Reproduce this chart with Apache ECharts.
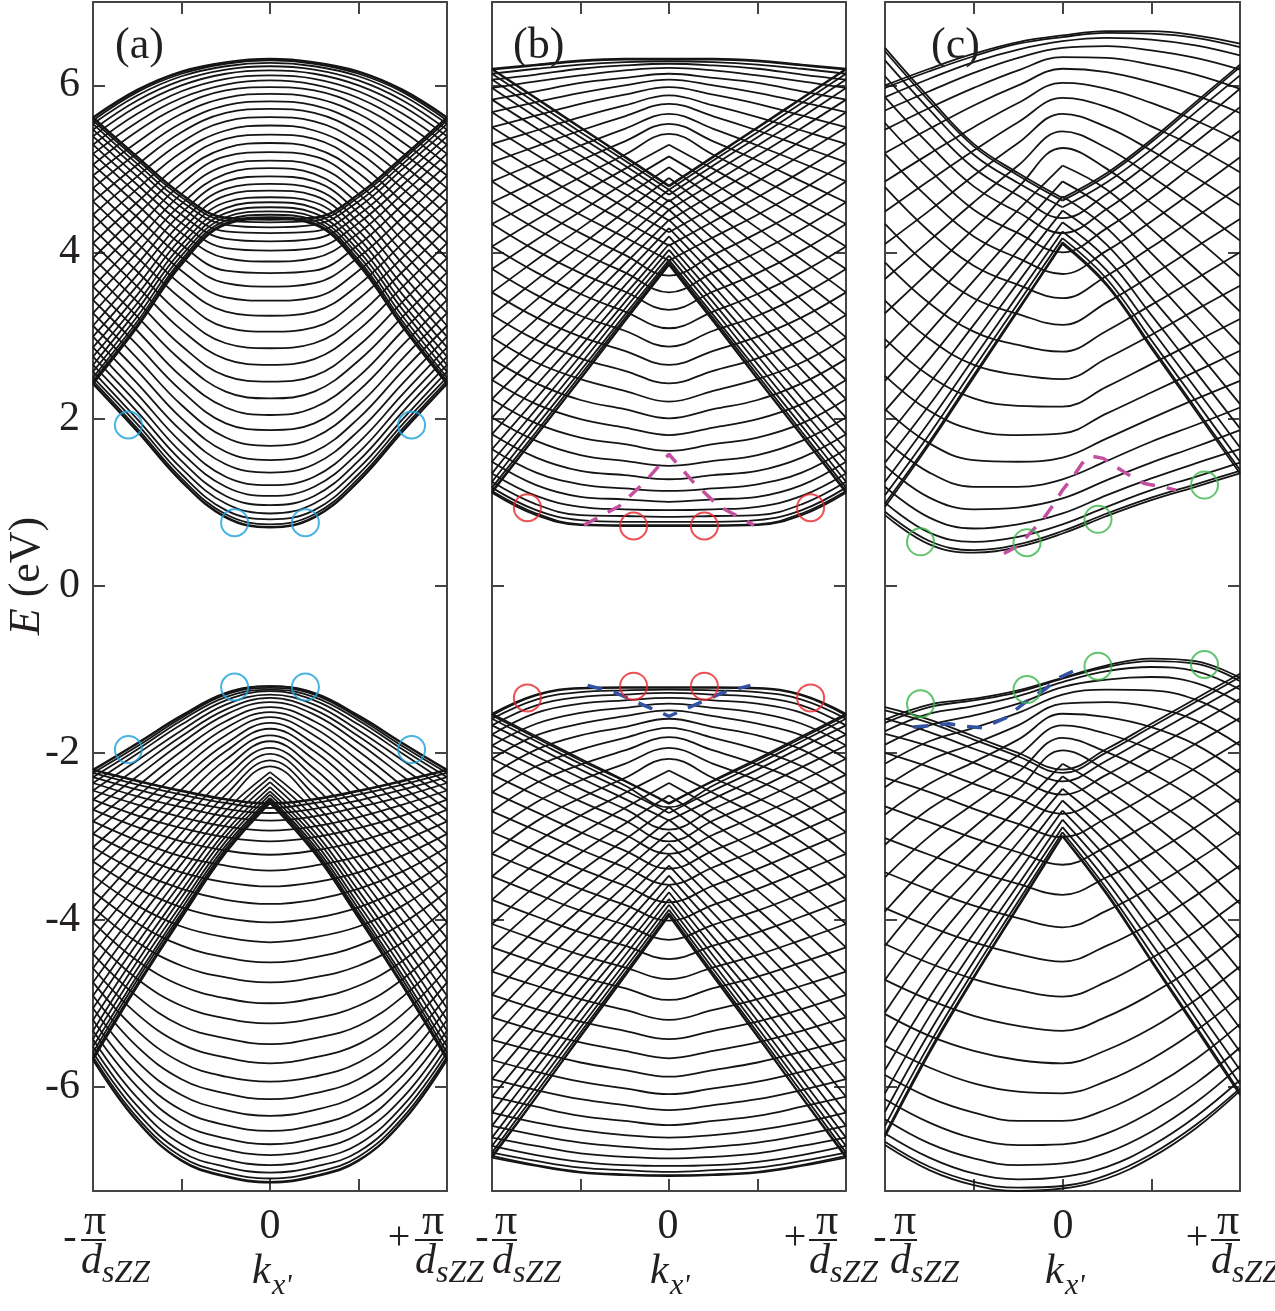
<!DOCTYPE html>
<html>
<head>
<meta charset="utf-8">
<script src="https://cdn.jsdelivr.net/npm/echarts@6.0.0/dist/echarts.min.js"></script>
<style>
  html, body { margin: 0; padding: 0; background: #fff; }
  #chart { width: 1275px; height: 1311px; }
</style>
</head>
<body>
<div id="chart"></div>
<script>
// k in units of pi/d_sZZ, energies in eV.
// Panels (a) and (b) are mirror symmetric: only k >= 0 columns are stored.
const kHalf = [0, 0.25, 0.5, 0.75, 1];
// Panel (c) is not symmetric: columns over the whole zone.
const kFull = [-1, -0.75, -0.5, -0.25, 0, 0.25, 0.5, 0.75, 1];

// ---- panel (a) ----
// conduction, lower branch (U shaped), columns k = 0, .25, .5, .75
const aCondLow = [
  [0.70,0.71,0.74,0.80,0.87,0.97,1.08,1.21,1.36,1.51,1.68,1.87,2.05,2.25,2.45,2.65,2.85,3.05,3.24,3.42,3.59,3.75,3.89,4.02,4.13,4.23,4.30,4.36,4.39,4.40],
  [0.82,0.83,0.86,0.91,0.99,1.08,1.19,1.31,1.46,1.61,1.78,1.95,2.14,2.33,2.52,2.72,2.91,3.10,3.29,3.46,3.63,3.78,3.93,4.05,4.16,4.25,4.33,4.38,4.41,4.42],
  [1.25,1.26,1.29,1.34,1.41,1.50,1.60,1.72,1.86,2.01,2.17,2.34,2.51,2.70,2.88,3.07,3.25,3.44,3.61,3.78,3.94,4.09,4.23,4.35,4.45,4.54,4.61,4.66,4.69,4.70],
  [1.85,1.86,1.89,1.94,2.00,2.09,2.19,2.30,2.43,2.58,2.73,2.89,3.06,3.23,3.41,3.59,3.77,3.94,4.11,4.27,4.42,4.57,4.70,4.81,4.91,5.00,5.06,5.11,5.14,5.15]
];
// conduction at the zone edge k = 1
const aCondEdge = [2.42,2.43,2.46,2.50,2.57,2.65,2.75,2.86,2.99,3.12,3.27,3.43,3.59,3.76,3.93,4.11,4.28,4.45,4.61,4.77,4.92,5.05,5.18,5.29,5.39,5.47,5.54,5.58,5.61,5.62];
// conduction, upper branch (cap shaped), columns k = 0, .25, .5, .75
const aCondUp = [
  [4.40,4.41,4.42,4.45,4.49,4.54,4.60,4.66,4.74,4.82,4.91,5.01,5.10,5.20,5.31,5.41,5.52,5.62,5.72,5.81,5.90,5.98,6.06,6.12,6.18,6.23,6.27,6.30,6.31,6.32],
  [4.33,4.34,4.35,4.38,4.42,4.47,4.53,4.60,4.68,4.76,4.85,4.94,5.04,5.15,5.25,5.36,5.46,5.57,5.67,5.76,5.85,5.94,6.01,6.08,6.14,6.19,6.23,6.26,6.27,6.28],
  [3.85,3.86,3.88,3.91,3.96,4.02,4.09,4.17,4.26,4.36,4.47,4.58,4.70,4.82,4.95,5.07,5.20,5.32,5.44,5.55,5.66,5.76,5.85,5.93,6.00,6.06,6.11,6.14,6.16,6.17],
  [3.10,3.11,3.13,3.17,3.23,3.31,3.39,3.49,3.60,3.73,3.86,4.00,4.14,4.29,4.45,4.60,4.76,4.91,5.05,5.19,5.32,5.45,5.56,5.66,5.75,5.82,5.88,5.92,5.94,5.95]
];
// valence, upper branch (cap shaped)
const aValUp = [
  [-1.20,-1.20,-1.22,-1.24,-1.26,-1.30,-1.34,-1.39,-1.45,-1.51,-1.57,-1.64,-1.71,-1.79,-1.86,-1.94,-2.01,-2.09,-2.16,-2.23,-2.29,-2.35,-2.41,-2.46,-2.50,-2.54,-2.56,-2.58,-2.59,-2.60],
  [-1.28,-1.29,-1.30,-1.33,-1.37,-1.42,-1.48,-1.54,-1.62,-1.70,-1.79,-1.89,-1.98,-2.08,-2.19,-2.29,-2.40,-2.50,-2.60,-2.69,-2.78,-2.86,-2.94,-3.00,-3.06,-3.11,-3.15,-3.18,-3.19,-3.20],
  [-1.55,-1.56,-1.58,-1.61,-1.66,-1.73,-1.80,-1.88,-1.98,-2.09,-2.20,-2.32,-2.44,-2.57,-2.70,-2.83,-2.96,-3.09,-3.22,-3.33,-3.45,-3.55,-3.65,-3.73,-3.81,-3.87,-3.92,-3.95,-3.97,-3.98],
  [-1.88,-1.89,-1.92,-1.96,-2.01,-2.09,-2.18,-2.28,-2.40,-2.52,-2.66,-2.80,-2.95,-3.10,-3.26,-3.42,-3.58,-3.73,-3.88,-4.02,-4.16,-4.28,-4.40,-4.50,-4.59,-4.67,-4.72,-4.77,-4.79,-4.80]
];
const aValEdge = [-2.20,-2.21,-2.24,-2.29,-2.36,-2.45,-2.56,-2.68,-2.82,-2.97,-3.13,-3.30,-3.47,-3.66,-3.85,-4.03,-4.22,-4.41,-4.58,-4.75,-4.91,-5.06,-5.20,-5.33,-5.43,-5.52,-5.59,-5.64,-5.67,-5.68];
// valence, lower branch (U shaped)
const aValLow = [
  [-2.60,-2.61,-2.66,-2.72,-2.81,-2.93,-3.06,-3.22,-3.41,-3.60,-3.81,-4.03,-4.27,-4.51,-4.75,-5.00,-5.24,-5.49,-5.72,-5.94,-6.15,-6.35,-6.53,-6.69,-6.82,-6.94,-7.03,-7.10,-7.14,-7.15],
  [-2.55,-2.56,-2.60,-2.67,-2.76,-2.88,-3.01,-3.17,-3.35,-3.55,-3.76,-3.98,-4.21,-4.45,-4.69,-4.94,-5.18,-5.42,-5.65,-5.88,-6.08,-6.28,-6.46,-6.62,-6.75,-6.87,-6.96,-7.03,-7.07,-7.08],
  [-2.45,-2.46,-2.50,-2.57,-2.65,-2.77,-2.90,-3.06,-3.24,-3.43,-3.63,-3.85,-4.08,-4.31,-4.55,-4.79,-5.03,-5.27,-5.49,-5.71,-5.91,-6.10,-6.28,-6.44,-6.57,-6.69,-6.78,-6.84,-6.88,-6.89],
  [-2.33,-2.34,-2.38,-2.44,-2.52,-2.62,-2.75,-2.89,-3.05,-3.23,-3.42,-3.62,-3.83,-4.04,-4.27,-4.49,-4.71,-4.92,-5.13,-5.33,-5.52,-5.70,-5.86,-6.00,-6.13,-6.23,-6.31,-6.37,-6.41,-6.42]
];

// ---- panel (b) ----
const bCondLow = [
  [0.72,0.73,0.77,0.83,0.91,1.01,1.14,1.28,1.44,1.62,1.81,2.01,2.21,2.43,2.65,2.87,3.09,3.31,3.52,3.72,3.90,4.08,4.24,4.38,4.51,4.61,4.69,4.75,4.79,4.80],
  [0.72,0.73,0.77,0.84,0.92,1.04,1.17,1.33,1.50,1.70,1.90,2.12,2.34,2.58,2.82,3.06,3.29,3.53,3.76,3.97,4.18,4.37,4.54,4.70,4.83,4.95,5.04,5.10,5.14,5.15],
  [0.73,0.74,0.79,0.85,0.95,1.07,1.22,1.38,1.57,1.78,2.00,2.23,2.48,2.73,2.99,3.24,3.50,3.75,4.00,4.23,4.45,4.66,4.85,5.01,5.16,5.28,5.38,5.44,5.49,5.50],
  [0.85,0.87,0.91,0.98,1.08,1.21,1.36,1.54,1.74,1.95,2.18,2.43,2.68,2.95,3.22,3.49,3.76,4.02,4.28,4.52,4.75,4.97,5.17,5.34,5.49,5.62,5.72,5.79,5.84,5.85]
];
const bCondEdge = [1.12,1.14,1.18,1.25,1.35,1.49,1.64,1.82,2.02,2.24,2.47,2.72,2.98,3.25,3.52,3.80,4.07,4.34,4.60,4.85,5.08,5.30,5.50,5.68,5.83,5.97,6.07,6.14,6.19,6.20];
const bCondUp = [
  [3.85,3.86,3.88,3.91,3.96,4.03,4.10,4.19,4.29,4.39,4.51,4.63,4.75,4.89,5.02,5.15,5.29,5.42,5.54,5.66,5.78,5.88,5.98,6.07,6.14,6.21,6.26,6.29,6.31,6.32],
  [3.17,3.18,3.21,3.25,3.32,3.40,3.49,3.60,3.73,3.86,4.01,4.16,4.32,4.49,4.66,4.83,5.00,5.17,5.33,5.48,5.63,5.76,5.89,6.00,6.09,6.18,6.24,6.28,6.31,6.32],
  [2.48,2.49,2.53,2.58,2.66,2.76,2.87,3.00,3.16,3.32,3.50,3.68,3.88,4.08,4.29,4.49,4.70,4.90,5.10,5.28,5.46,5.62,5.78,5.91,6.03,6.12,6.20,6.25,6.29,6.30],
  [1.80,1.81,1.85,1.92,2.01,2.12,2.25,2.41,2.59,2.78,2.98,3.20,3.43,3.67,3.91,4.15,4.39,4.62,4.85,5.07,5.27,5.46,5.64,5.80,5.93,6.05,6.13,6.20,6.24,6.25]
];
const bValUp = [
  [-1.21,-1.22,-1.24,-1.28,-1.34,-1.41,-1.49,-1.59,-1.70,-1.81,-1.94,-2.07,-2.21,-2.36,-2.51,-2.65,-2.80,-2.95,-3.09,-3.22,-3.35,-3.47,-3.58,-3.67,-3.75,-3.82,-3.88,-3.92,-3.94,-3.95],
  [-1.21,-1.22,-1.25,-1.30,-1.37,-1.46,-1.56,-1.69,-1.82,-1.97,-2.13,-2.30,-2.48,-2.66,-2.85,-3.04,-3.23,-3.41,-3.59,-3.76,-3.92,-4.07,-4.21,-4.33,-4.43,-4.52,-4.59,-4.64,-4.67,-4.68],
  [-1.22,-1.23,-1.27,-1.33,-1.41,-1.52,-1.65,-1.79,-1.96,-2.14,-2.33,-2.54,-2.75,-2.97,-3.20,-3.42,-3.65,-3.87,-4.08,-4.29,-4.48,-4.66,-4.83,-4.97,-5.10,-5.21,-5.29,-5.35,-5.39,-5.40],
  [-1.30,-1.31,-1.36,-1.43,-1.52,-1.65,-1.79,-1.96,-2.16,-2.36,-2.59,-2.82,-3.07,-3.32,-3.59,-3.85,-4.11,-4.36,-4.61,-4.85,-5.07,-5.28,-5.47,-5.64,-5.78,-5.91,-6.00,-6.07,-6.12,-6.13]
];
const bValEdge = [-1.53,-1.55,-1.59,-1.67,-1.78,-1.91,-2.07,-2.26,-2.47,-2.70,-2.95,-3.21,-3.48,-3.76,-4.05,-4.33,-4.62,-4.90,-5.17,-5.44,-5.68,-5.91,-6.12,-6.31,-6.47,-6.61,-6.71,-6.79,-6.83,-6.85];
const bValLow = [
  [-2.60,-2.61,-2.65,-2.72,-2.81,-2.92,-3.06,-3.21,-3.39,-3.58,-3.79,-4.01,-4.24,-4.47,-4.71,-4.96,-5.20,-5.43,-5.66,-5.88,-6.09,-6.28,-6.46,-6.61,-6.75,-6.86,-6.95,-7.02,-7.06,-7.07],
  [-2.33,-2.34,-2.39,-2.45,-2.55,-2.67,-2.81,-2.98,-3.17,-3.37,-3.59,-3.82,-4.06,-4.31,-4.57,-4.82,-5.08,-5.33,-5.57,-5.80,-6.02,-6.22,-6.41,-6.58,-6.72,-6.84,-6.94,-7.00,-7.05,-7.06],
  [-2.07,-2.09,-2.13,-2.20,-2.30,-2.43,-2.58,-2.75,-2.95,-3.16,-3.39,-3.63,-3.89,-4.15,-4.42,-4.68,-4.95,-5.22,-5.47,-5.71,-5.94,-6.15,-6.35,-6.52,-6.67,-6.80,-6.90,-6.97,-7.02,-7.03],
  [-1.80,-1.82,-1.86,-1.93,-2.04,-2.17,-2.33,-2.51,-2.71,-2.93,-3.17,-3.42,-3.69,-3.96,-4.24,-4.51,-4.79,-5.07,-5.33,-5.58,-5.82,-6.04,-6.24,-6.43,-6.58,-6.71,-6.82,-6.89,-6.94,-6.95]
];

// ---- panel (c), columns at kFull ----
const cCondLow = [
  [0.85,0.89,1.00,1.19,1.44,1.75,2.12,2.52,2.96,3.42,3.88,4.34,4.78,5.18,5.55,5.86,6.11,6.30,6.41,6.45],
  [0.50,0.54,0.64,0.82,1.06,1.36,1.71,2.10,2.52,2.96,3.39,3.83,4.25,4.64,4.99,5.29,5.53,5.71,5.81,5.85],
  [0.40,0.43,0.53,0.69,0.92,1.19,1.51,1.87,2.25,2.65,3.05,3.45,3.84,4.19,4.51,4.79,5.01,5.17,5.27,5.30],
  [0.47,0.50,0.59,0.74,0.94,1.19,1.49,1.81,2.16,2.53,2.89,3.26,3.61,3.93,4.23,4.48,4.68,4.83,4.92,4.95],
  [0.63,0.66,0.74,0.87,1.05,1.28,1.54,1.83,2.15,2.48,2.81,3.13,3.45,3.74,4.00,4.23,4.41,4.54,4.62,4.65],
  [0.84,0.87,0.95,1.09,1.27,1.50,1.77,2.07,2.39,2.73,3.06,3.40,3.72,4.02,4.29,4.52,4.70,4.84,4.92,4.95],
  [1.03,1.06,1.15,1.29,1.48,1.73,2.01,2.32,2.66,3.01,3.37,3.72,4.06,4.37,4.65,4.90,5.09,5.23,5.32,5.35],
  [1.19,1.22,1.31,1.47,1.67,1.93,2.24,2.57,2.93,3.31,3.68,4.06,4.42,4.75,5.06,5.32,5.52,5.68,5.77,5.80],
  [1.35,1.38,1.48,1.64,1.87,2.14,2.46,2.82,3.20,3.60,4.00,4.40,4.79,5.14,5.46,5.74,5.96,6.12,6.22,6.25]
];
const cCondUp = [
  [0.95,0.99,1.09,1.25,1.48,1.76,2.10,2.46,2.85,3.27,3.68,4.10,4.49,4.85,5.19,5.47,5.70,5.86,5.97,6.00],
  [1.70,1.73,1.82,1.97,2.17,2.43,2.72,3.05,3.40,3.77,4.14,4.50,4.86,5.18,5.48,5.73,5.93,6.08,6.17,6.20],
  [2.50,2.53,2.61,2.73,2.91,3.13,3.38,3.66,3.96,4.28,4.60,4.92,5.22,5.50,5.76,5.97,6.15,6.28,6.35,6.38],
  [3.30,3.32,3.39,3.49,3.64,3.82,4.03,4.26,4.51,4.78,5.04,5.31,5.56,5.79,6.00,6.18,6.33,6.43,6.50,6.52],
  [4.10,4.12,4.17,4.25,4.36,4.50,4.67,4.85,5.04,5.25,5.45,5.66,5.85,6.03,6.20,6.34,6.45,6.53,6.58,6.60],
  [3.60,3.62,3.68,3.78,3.92,4.09,4.29,4.51,4.75,5.00,5.25,5.50,5.74,5.96,6.16,6.33,6.47,6.57,6.63,6.65],
  [2.85,2.88,2.95,3.08,3.25,3.46,3.71,3.99,4.28,4.59,4.91,5.22,5.51,5.79,6.04,6.25,6.42,6.55,6.62,6.65],
  [2.10,2.13,2.22,2.37,2.57,2.83,3.12,3.45,3.80,4.17,4.54,4.90,5.26,5.58,5.88,6.13,6.33,6.48,6.57,6.60],
  [1.35,1.39,1.49,1.66,1.89,2.18,2.52,2.89,3.29,3.71,4.14,4.56,4.96,5.33,5.67,5.96,6.19,6.36,6.46,6.50]
];
const cValUp = [
  [-1.60,-1.64,-1.74,-1.90,-2.13,-2.41,-2.74,-3.10,-3.49,-3.90,-4.31,-4.72,-5.11,-5.47,-5.80,-6.08,-6.30,-6.47,-6.57,-6.60],
  [-1.42,-1.45,-1.53,-1.67,-1.86,-2.09,-2.37,-2.67,-3.00,-3.34,-3.68,-4.02,-4.35,-4.65,-4.93,-5.16,-5.35,-5.49,-5.57,-5.60],
  [-1.35,-1.37,-1.44,-1.55,-1.70,-1.89,-2.11,-2.35,-2.61,-2.89,-3.16,-3.44,-3.70,-3.94,-4.16,-4.35,-4.50,-4.61,-4.68,-4.70],
  [-1.25,-1.27,-1.32,-1.41,-1.52,-1.67,-1.84,-2.03,-2.23,-2.44,-2.66,-2.87,-3.07,-3.26,-3.43,-3.58,-3.69,-3.78,-3.83,-3.85],
  [-1.10,-1.11,-1.15,-1.21,-1.30,-1.41,-1.53,-1.67,-1.82,-1.97,-2.13,-2.28,-2.43,-2.57,-2.69,-2.80,-2.89,-2.95,-2.99,-3.00],
  [-0.95,-0.97,-1.02,-1.12,-1.24,-1.39,-1.57,-1.77,-1.99,-2.21,-2.44,-2.66,-2.88,-3.08,-3.26,-3.41,-3.54,-3.63,-3.68,-3.70],
  [-0.87,-0.90,-0.97,-1.09,-1.25,-1.45,-1.69,-1.96,-2.24,-2.54,-2.83,-3.13,-3.42,-3.68,-3.92,-4.12,-4.28,-4.40,-4.48,-4.50],
  [-0.90,-0.93,-1.02,-1.16,-1.36,-1.61,-1.90,-2.22,-2.56,-2.92,-3.28,-3.64,-3.98,-4.30,-4.59,-4.84,-5.04,-5.18,-5.27,-5.30],
  [-1.10,-1.14,-1.24,-1.40,-1.63,-1.91,-2.24,-2.60,-2.99,-3.40,-3.81,-4.22,-4.61,-4.97,-5.30,-5.58,-5.80,-5.97,-6.07,-6.10]
];
const cValLow = [
  [-1.45,-1.49,-1.59,-1.77,-2.00,-2.30,-2.64,-3.02,-3.43,-3.86,-4.29,-4.72,-5.13,-5.51,-5.86,-6.15,-6.39,-6.56,-6.66,-6.70],
  [-1.60,-1.64,-1.75,-1.92,-2.17,-2.47,-2.83,-3.22,-3.64,-4.08,-4.52,-4.96,-5.39,-5.77,-6.13,-6.43,-6.68,-6.85,-6.96,-7.00],
  [-1.80,-1.84,-1.95,-2.12,-2.37,-2.67,-3.02,-3.41,-3.83,-4.27,-4.71,-5.15,-5.57,-5.96,-6.31,-6.62,-6.86,-7.04,-7.14,-7.18],
  [-2.00,-2.04,-2.14,-2.32,-2.55,-2.85,-3.19,-3.57,-3.98,-4.41,-4.84,-5.27,-5.68,-6.06,-6.41,-6.70,-6.94,-7.11,-7.21,-7.25],
  [-2.20,-2.24,-2.34,-2.50,-2.73,-3.01,-3.34,-3.70,-4.09,-4.50,-4.92,-5.33,-5.72,-6.08,-6.41,-6.69,-6.92,-7.08,-7.19,-7.22],
  [-1.95,-1.99,-2.09,-2.26,-2.49,-2.78,-3.12,-3.49,-3.89,-4.31,-4.74,-5.16,-5.56,-5.93,-6.27,-6.56,-6.79,-6.96,-7.06,-7.10],
  [-1.65,-1.69,-1.79,-1.96,-2.20,-2.49,-2.83,-3.21,-3.61,-4.04,-4.46,-4.89,-5.30,-5.67,-6.01,-6.30,-6.54,-6.71,-6.81,-6.85],
  [-1.35,-1.39,-1.49,-1.66,-1.89,-2.18,-2.52,-2.89,-3.29,-3.71,-4.14,-4.56,-4.96,-5.33,-5.67,-5.96,-6.19,-6.36,-6.46,-6.50],
  [-1.05,-1.09,-1.19,-1.35,-1.58,-1.86,-2.19,-2.55,-2.94,-3.35,-3.76,-4.17,-4.56,-4.92,-5.25,-5.53,-5.75,-5.92,-6.02,-6.05]
];

// ---- markers ----
const aCircles = [[-0.80,1.93],[-0.20,0.76],[0.20,0.76],[0.80,1.93],[-0.20,-1.21],[0.20,-1.21],[-0.80,-1.96],[0.80,-1.96]];
const bCircles = [[-0.80,0.94],[-0.20,0.72],[0.20,0.72],[0.80,0.94],[-0.80,-1.34],[-0.20,-1.20],[0.20,-1.20],[0.80,-1.34]];
const cCircles = [[-0.80,0.53],[-0.20,0.52],[0.20,0.80],[0.80,1.21],[-0.80,-1.41],[-0.20,-1.24],[0.20,-0.96],[0.80,-0.94]];
const bPinkPath = [[-0.48,0.73],[-0.28,0.96],[-0.14,1.24],[0,1.58],[0.14,1.24],[0.28,0.96],[0.48,0.73]];
const bBluePath = [[-0.46,-1.19],[-0.30,-1.28],[-0.15,-1.42],[0,-1.56],[0.15,-1.42],[0.30,-1.28],[0.46,-1.19]];
const cPinkPath = [[-0.33,0.39],[-0.25,0.48],[-0.18,0.64],[-0.11,0.80],[-0.05,0.98],[0.0,1.15],[0.06,1.31],[0.11,1.47],[0.16,1.56],[0.23,1.53],[0.30,1.43],[0.39,1.31],[0.46,1.23],[0.56,1.19],[0.64,1.15]];
const cBluePath = [[-0.84,-1.69],[-0.73,-1.67],[-0.64,-1.65],[-0.55,-1.68],[-0.45,-1.70],[-0.32,-1.58],[-0.25,-1.46],[-0.17,-1.33],[-0.10,-1.24],[-0.02,-1.10],[0.06,-1.02]];

const yTicks = [-6, -4, -2, 0, 2, 4, 6];
const xTicks = [-0.5, 0, 0.5];

const serif = '"Liberation Serif", "Times New Roman", serif';
const ink = '#231f20';
const frame = '#444';
const panels = [
  { left: 93, width: 354 },
  { left: 492, width: 354 },
  { left: 885, width: 355 }
];
const TOP = 2, HEIGHT = 1189;

const chart = echarts.init(document.getElementById('chart'), null, { renderer: 'canvas' });

const grids = [], xAxes = [], yAxes = [];
panels.forEach(function (p, i) {
  grids.push({ left: p.left, top: TOP, width: p.width, height: HEIGHT, containLabel: false });
  ['bottom', 'top'].forEach(function (pos) {
    xAxes.push({
      type: 'value', gridIndex: i, min: -1, max: 1, position: pos,
      axisLine: { show: true, onZero: false, lineStyle: { color: frame, width: 2 } },
      axisTick: { show: true, inside: true, length: 12, customValues: xTicks, lineStyle: { color: frame, width: 2 } },
      axisLabel: { show: false }, splitLine: { show: false }
    });
  });
  ['left', 'right'].forEach(function (pos) {
    const withLabels = (i === 0 && pos === 'left');
    yAxes.push({
      type: 'value', gridIndex: i, min: -7.25, max: 7, position: pos,
      axisLine: { show: true, onZero: false, lineStyle: { color: frame, width: 2 } },
      axisTick: { show: true, inside: true, length: 12, customValues: yTicks, lineStyle: { color: frame, width: 2 } },
      axisLabel: {
        show: withLabels, customValues: yTicks, margin: 13,
        fontFamily: serif, fontSize: 42, color: ink
      },
      splitLine: { show: false }
    });
  });
});

function bandLine(pts, gi) {
  return {
    type: 'line', xAxisIndex: gi * 2, yAxisIndex: gi * 2, data: pts,
    smooth: 0.4, symbol: 'none', silent: true, animation: false, z: 2,
    lineStyle: { color: '#151515', width: 1.8 }
  };
}
// a band with a pointed extremum at k = 0 is drawn as two halves so the tip stays sharp
function addBand(out, pts, gi, sharp) {
  const c = pts.findIndex(function (p) { return p[0] === 0; });
  const v = pts[c][1], l = pts[c - 1][1], r = pts[c + 1][1];
  if ((v - l) * (v - r) > 0 && Math.abs(v - l) > sharp && Math.abs(v - r) > sharp) {
    out.push(bandLine(pts.slice(0, c + 1), gi));
    out.push(bandLine(pts.slice(c), gi));
  } else {
    out.push(bandLine(pts, gi));
  }
}
// symmetric family: columns at kHalf, mirrored to negative k
function symFamily(cols, gi, sharp) {
  const out = [];
  for (let b = 0; b < cols[0].length; b++) {
    const pts = [];
    for (let j = cols.length - 1; j > 0; j--) pts.push([-kHalf[j], cols[j][b]]);
    for (let j = 0; j < cols.length; j++) pts.push([kHalf[j], cols[j][b]]);
    addBand(out, pts, gi, sharp);
  }
  return out;
}
// family sampled over the full zone
function fullFamily(cols, gi, sharp) {
  const out = [];
  for (let b = 0; b < cols[0].length; b++) {
    addBand(out, kFull.map(function (k, j) { return [k, cols[j][b]]; }), gi, sharp);
  }
  return out;
}

let series = [];
series = series.concat(symFamily(aCondLow.concat([aCondEdge]), 0, 0.45));
series = series.concat(symFamily(aCondUp.concat([aCondEdge]), 0, 0.45));
series = series.concat(symFamily(aValUp.concat([aValEdge]), 0, 0.45));
series = series.concat(symFamily(aValLow.concat([aValEdge]), 0, 0.45));
series = series.concat(symFamily(bCondLow.concat([bCondEdge]), 1, 0.26));
series = series.concat(symFamily(bCondUp.concat([bCondEdge]), 1, 0.26));
series = series.concat(symFamily(bValUp.concat([bValEdge]), 1, 0.26));
series = series.concat(symFamily(bValLow.concat([bValEdge]), 1, 0.26));
series = series.concat(fullFamily(cCondLow, 2, 0.28));
series = series.concat(fullFamily(cCondUp, 2, 0.28));
series = series.concat(fullFamily(cValUp, 2, 0.28));
series = series.concat(fullFamily(cValLow, 2, 0.28));

function circles(data, gi, color) {
  return {
    type: 'scatter', xAxisIndex: gi * 2, yAxisIndex: gi * 2, data: data,
    symbol: 'circle', symbolSize: 27, silent: true, animation: false, z: 6,
    itemStyle: { color: 'rgba(0,0,0,0)', borderColor: color, borderWidth: 2 }
  };
}
function dashed(data, gi, color) {
  return {
    type: 'line', xAxisIndex: gi * 2, yAxisIndex: gi * 2, data: data,
    symbol: 'none', silent: true, animation: false, z: 5,
    lineStyle: { color: color, width: 3.5, type: [15, 12] }
  };
}
series.push(circles(aCircles, 0, '#1ca0dc'));
series.push(circles(bCircles, 1, '#e8262b'));
series.push(circles(cCircles, 2, '#3cb54a'));
series.push(dashed(bPinkPath, 1, '#c2509e'));
series.push(dashed(bBluePath, 1, '#3452a4'));
series.push(dashed(cPinkPath, 2, '#c2509e'));
series.push(dashed(cBluePath, 2, '#3452a4'));

// ---- text decorations ----
function T(x, y, text, size, italic, align) {
  return {
    type: 'text', x: x, y: y, silent: true, z: 10,
    style: {
      text: text, fill: ink,
      font: (italic ? 'italic ' : '') + size + 'px ' + serif,
      align: align || 'center', verticalAlign: 'middle',
      textAlign: align || 'center', textVerticalAlign: 'middle'
    }
  };
}
function bar(x1, x2, y) {
  return { type: 'line', silent: true, z: 10, shape: { x1: x1, y1: y, x2: x2, y2: y }, style: { stroke: ink, lineWidth: 2 } };
}
function fraction(sign, signX, piX, barX1, barX2) {
  return [
    T(signX, 1238, sign, 40, false),
    T(piX, 1222, '\u03c0', 44, false),
    bar(barX1, barX2, 1240),
    T(barX1, 1262, 'd', 42, true, 'left'),
    T(barX1 + 21, 1274, 'sZZ', 32, true, 'left')
  ];
}
function kLabel(cx) {
  return [
    T(cx, 1227, '0', 42, false),
    T(cx - 18, 1272, 'k', 42, true, 'left'),
    T(cx + 2, 1286, "x'", 30, true, 'left')
  ];
}

let graphics = [];
graphics = graphics.concat(fraction('-', 70, 95, 81, 106), fraction('+', 399, 433, 415, 443), kLabel(270));
graphics = graphics.concat(fraction('-', 482, 506, 492, 517), fraction('+', 795, 827, 809, 837), kLabel(668));
graphics = graphics.concat(fraction('-', 880, 905, 890, 917), fraction('+', 1197, 1228, 1211, 1240), kLabel(1063));
graphics.push(T(115, 46, '(a)', 44, false, 'left'));
graphics.push(T(513, 46, '(b)', 44, false, 'left'));
graphics.push(T(931, 46, '(c)', 44, false, 'left'));
graphics.push({
  type: 'text', x: 27, y: 576, rotation: Math.PI / 2, silent: true, z: 10,
  style: {
    text: '{i|E} (eV)', fill: ink, font: '44px ' + serif,
    align: 'center', verticalAlign: 'middle', textAlign: 'center', textVerticalAlign: 'middle',
    rich: { i: { font: 'italic 44px ' + serif, fill: ink } }
  }
});

chart.setOption({
  animation: false,
  backgroundColor: '#fff',
  grid: grids,
  xAxis: xAxes,
  yAxis: yAxes,
  series: series,
  graphic: { elements: graphics }
});
</script>
</body>
</html>
